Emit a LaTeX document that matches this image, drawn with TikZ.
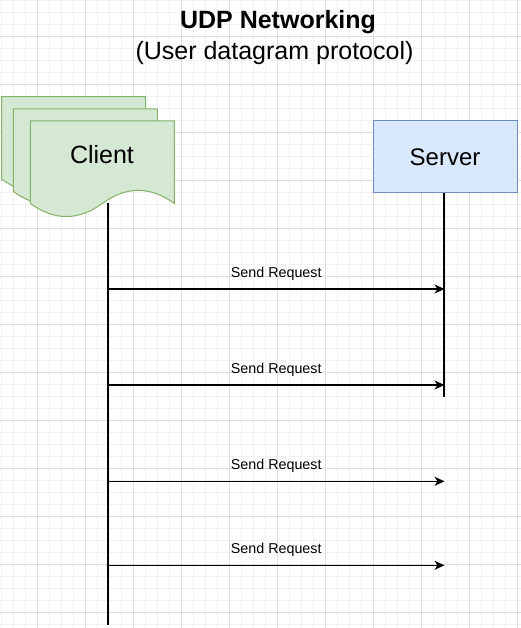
\documentclass[tikz,border=0pt]{standalone}
\usepackage{fontspec}
\setmainfont{Liberation Sans}
\usetikzlibrary{arrows.meta,positioning}

\definecolor{verdeFundo}{HTML}{D5E8D4}
\definecolor{verdeBorda}{HTML}{82B366}
\definecolor{azulFundo}{HTML}{DAE8FC}
\definecolor{azulBorda}{HTML}{6C8EBF}
\definecolor{gradeFina}{HTML}{F1F1F1}
\definecolor{gradeGrossa}{HTML}{DEDEDE}

\tikzset{
    folha/.style={fill=verdeFundo, draw=verdeBorda, line width=1pt},
    caixa/.style={rectangle, fill=azulFundo, draw=azulBorda, line width=1pt,
        minimum width=144pt, minimum height=72pt, font=\fontsize{24}{28}\selectfont},
    vida/.style={line width=1.2pt},
    msg/.style={line width=1.2pt, -{Stealth[length=10pt, width=9pt, inset=3pt]}},
    rotulo/.style={font=\fontsize{14.3}{16}\selectfont, above=4.5pt, midway}
}

% documento com base ondulada (144 x 97)
\newcommand{\folhaCliente}[2]{
    \draw[folha, shift={(#1,#2)}] (0,0) -- (144,0) -- (144,82.45)
        .. controls (120,65) and (96,65) .. (72,82.45)
        .. controls (48,99.9) and (24,99.9) .. (0,82.45) -- cycle;
}

\begin{document}
\begin{tikzpicture}[x=1pt, y=-1pt]
    \useasboundingbox (0,0) rectangle (521,628);
    \fill[white] (0,0) rectangle (521,628);

    % grade de fundo
    \foreach \x in {1,13,...,521}
        \draw[gradeFina, line width=0.8pt] (\x,0) -- (\x,628);
    \foreach \y in {0,12,...,628}
        \draw[gradeFina, line width=0.8pt] (0,\y) -- (521,\y);
    \foreach \x in {37,85,...,521}
        \draw[gradeGrossa, line width=0.8pt] (\x,0) -- (\x,628);
    \foreach \y in {36,84,...,628}
        \draw[gradeGrossa, line width=0.8pt] (0,\y) -- (521,\y);

    % titulo
    \node[anchor=base, font=\bfseries\fontsize{25}{29}\selectfont] (titulo) at (278,29) {UDP Networking};
    \node[anchor=base, font=\fontsize{25}{29}\selectfont] (subtitulo) at (274.5,60) {(User datagram protocol)};

    % cliente (varios documentos)
    \folhaCliente{1.7}{96.7}
    \folhaCliente{13.3}{109}
    \folhaCliente{30.3}{121}
    \node[anchor=base, font=\fontsize{25}{29}\selectfont] (cliente) at (102,164) {Client};

    % servidor
    \node[caixa] (servidor) at (445,157) {Server};

    % linhas de vida
    \coordinate (cTopo) at (108,203);
    \coordinate (cFim) at (108,625);
    \coordinate (sFim) at (444,396.7);
    \draw[vida] (cTopo) -- (cFim);
    \draw[vida] (servidor.south -| sFim) -- (sFim);

    % mensagens
    \foreach \i/\y in {1/289, 2/385, 3/481.3, 4/565.3} {
        \coordinate (c\i) at (108,\y);
        \coordinate (s\i) at (444.5,\y);
        \draw[msg] (c\i) -- (s\i) node[rotulo] {Send Request};
    }

\end{tikzpicture}
\end{document}
